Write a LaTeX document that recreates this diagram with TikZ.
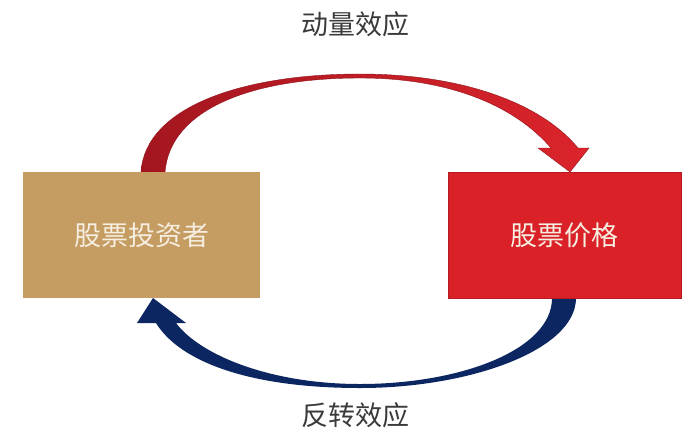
\documentclass[tikz,border=0pt]{standalone}
\usepackage{fontspec}
\setmainfont{Noto Sans CJK SC}
\definecolor{tanbox}{HTML}{C59C61}
\definecolor{redbox}{HTML}{DA2128}
\definecolor{redboxedge}{HTML}{B51B22}
\definecolor{arrowdark}{HTML}{A3161F}
\definecolor{arrowlight}{HTML}{DC242B}
\definecolor{arrowedge}{HTML}{8E141B}
\definecolor{navy}{HTML}{0B2660}
\definecolor{labelgray}{HTML}{3A3A3A}
\definecolor{boxtext}{HTML}{F6EEE0}
\begin{document}
\begin{tikzpicture}[x=1pt,y=-1pt,
  box/.style={minimum height=126pt, inner sep=0pt, text=boxtext, font=\fontsize{27}{30}\selectfont},
  effect/.style={text=labelgray, font=\fontsize{27}{30}\selectfont}]
\useasboundingbox (0,0) rectangle (700,445);
% top arrow (momentum)
\shadedraw[left color=arrowdark, right color=arrowlight, draw=arrowedge, line width=0.4pt]
  (141,172) .. controls (145,108) and (240,74) .. (360,74)
  .. controls (460,74) and (540,102) .. (578,148)
  -- (589,148) -- (570,172) -- (538,148) -- (551,148)
  .. controls (515,106) and (450,78) .. (360,78)
  .. controls (250,78) and (170,110) .. (165,172) -- cycle;
% bottom arrow (reversal)
\fill[navy]
  (576,298) .. controls (576,350) and (470,388) .. (360,388)
  .. controls (250,388) and (180,362) .. (156,323)
  -- (137,323) -- (153,298) -- (186,323) -- (176,323)
  .. controls (200,355) and (270,384) .. (360,384)
  .. controls (460,384) and (552,350) .. (552,298) -- cycle;
% boxes
\node[box, fill=tanbox, minimum width=237pt] (investor) at (141.5,235) {股票投资者};
\node[box, fill=redbox, draw=redboxedge, line width=0.8pt, minimum width=233pt] (price) at (564.5,235) {股票价格};
% labels
\node[effect] (momentum) at (355,24) {动量效应};
\node[effect] (reversal) at (355,415) {反转效应};
\end{tikzpicture}
\end{document}
